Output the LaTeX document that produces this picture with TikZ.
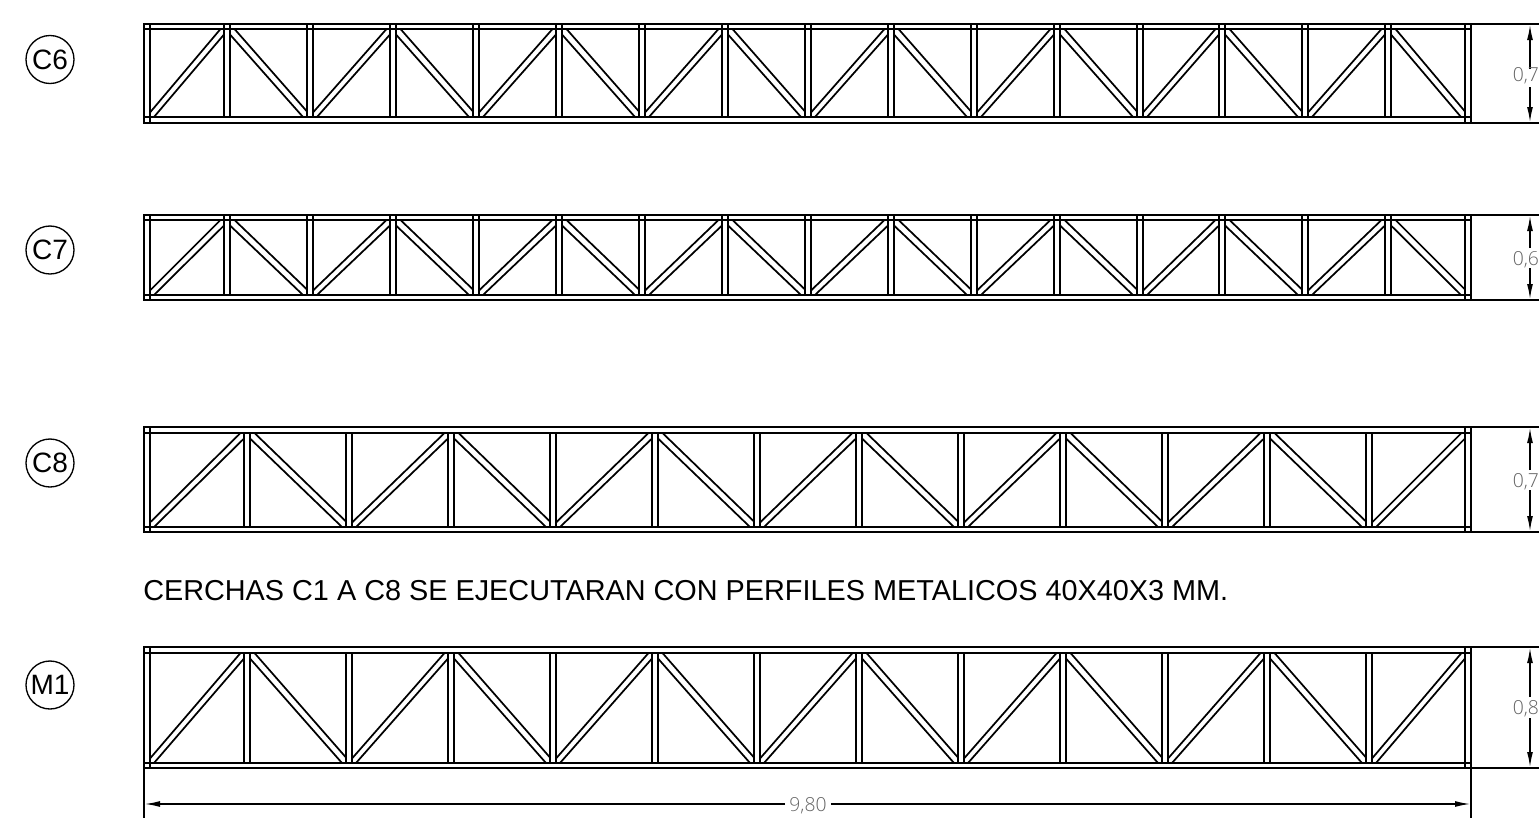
\documentclass[tikz,border=0pt]{standalone}
\usepackage{fontspec}
\setmainfont{Liberation Sans}
\newfontfamily\dimfont{Open Sans Light}
\usetikzlibrary{arrows.meta}
\definecolor{dimgray}{RGB}{100,100,100}
\newcommand{\diags}[5]{% k L R T B
  \ifodd#1\relax
    \draw[member] (#2,#5-4.5) -- (#3-3.5,#4);
    \draw[member] (#2+4,#5) -- (#3,#4+5.5);
  \else
    \draw[member] (#2,#4+5.5) -- (#3-4,#5);
    \draw[member] (#2+4.5,#4) -- (#3,#5-5.5);
  \fi}
% top itop ibot bot : 16-bay truss (verticals run through the top chord)
\newcommand{\trussA}[4]{%
  \draw[member] (144,#1) rectangle (1471,#4);
  \draw[member] (144,#2) -- (1471,#2);
  \draw[member] (144,#3) -- (1471,#3);
  \draw[member] (150,#1) -- (150,#4);
  \draw[member] (1465,#1) -- (1465,#4);
  \foreach \k in {1,...,15}{
    \pgfmathsetmacro{\vx}{round(224.3+82.93*(\k-1))}
    \draw[member] (\vx,#1) -- (\vx,#3);
    \draw[member] (\vx+6,#1) -- (\vx+6,#3);
  }
  \foreach \k in {1,...,16}{
    \pgfmathsetmacro{\xl}{\k==1 ? 150 : round(224.3+82.93*(\k-2))+6}
    \pgfmathsetmacro{\xr}{\k==16 ? 1465 : round(224.3+82.93*(\k-1))}
    \diags{\k}{\xl}{\xr}{#2}{#3}
  }}
% 13-bay truss (verticals stop at the chords)
\newcommand{\trussB}[4]{%
  \draw[member] (144,#1) rectangle (1471,#4);
  \draw[member] (144,#2) -- (1471,#2);
  \draw[member] (144,#3) -- (1471,#3);
  \draw[member] (150,#1) -- (150,#4);
  \draw[member] (1465,#1) -- (1465,#4);
  \foreach \k in {1,...,12}{
    \pgfmathsetmacro{\vx}{round(244+101.97*(\k-1))}
    \draw[member] (\vx,#2) -- (\vx,#3);
    \draw[member] (\vx+6,#2) -- (\vx+6,#3);
  }
  \foreach \k in {1,...,13}{
    \pgfmathsetmacro{\xl}{\k==1 ? 150 : round(244+101.97*(\k-2))+6}
    \pgfmathsetmacro{\xr}{\k==13 ? 1465 : round(244+101.97*(\k-1))}
    \diags{\k}{\xl}{\xr}{#2}{#3}
  }}
% top bot textY gapTop gapBot label
\newcommand{\vdim}[6]{%
  \draw[member] (1471,#1) -- (1539,#1);
  \draw[member] (1471,#2) -- (1539,#2);
  \draw[dimline] (1530,#4) -- (1530,#1);
  \draw[dimline] (1530,#5) -- (1530,#2);
  \node[dimtext,anchor=west] at (1512.5,#3) {#6};}
\begin{document}
\begin{tikzpicture}[x=0.75pt,y=-0.75pt,
  member/.style={line width=1.3pt,black},
  dimline/.style={line width=1.3pt,black,-{Latex[length=12pt,width=4.4pt]}},
  dimtext/.style={font=\dimfont\fontsize{14.5pt}{16pt}\selectfont,text=dimgray,inner sep=0pt},
  tag/.style={circle,draw,line width=1pt,minimum size=36pt,inner sep=0pt,font=\fontsize{21pt}{23pt}\selectfont}]
\useasboundingbox (0,0) rectangle (1539,818);
\clip (0,0) rectangle (1539,818);
\node[tag] (c6) at (50,59.5) {C6};
\node[tag] (c7) at (50,250) {C7};
\node[tag] (c8) at (50,463) {C8};
\node[tag] (m1) at (50,685) {M1};
\trussA{24}{29}{117}{123}
\trussA{215}{220}{295}{300}
\trussB{427}{433}{527}{532}
\trussB{647}{653}{763}{768}
\vdim{24}{123}{75.5}{69}{87}{0,7}
\vdim{215}{300}{259.5}{248}{268}{0,6}
\vdim{427}{532}{481.5}{470}{490}{0,7}
\vdim{647}{768}{709}{697}{718}{0,8}
\node[anchor=west,inner sep=0pt,font=\fontsize{21.62pt}{24pt}\selectfont] (note) at (143,591) {CERCHAS C1 A C8 SE EJECUTARAN CON PERFILES METALICOS 40X40X3 MM.};
\draw[member] (144,768) -- (144,818);
\draw[member] (1471,768) -- (1471,818);
\node[dimtext] (d980) at (808,805.5) {9,80};
\path (d980.west) ++(-4,-1.5) coordinate (dl);
\path (d980.east) ++(4,-1.5) coordinate (dr);
\draw[dimline] (dl) -- (144,804);
\draw[dimline] (dr) -- (1471,804);
\end{tikzpicture}
\end{document}
